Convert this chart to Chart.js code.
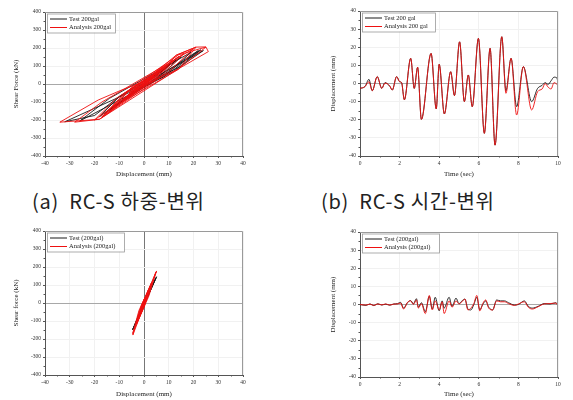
<!DOCTYPE html>
<html>
<head>
<meta charset="utf-8">
<script src="https://cdn.jsdelivr.net/npm/chart.js@4.4.1/dist/chart.umd.min.js"></script>
<style>
  body { margin: 0; background: #fff; width: 573px; height: 400px; position: relative; overflow: hidden; }
  .box { position: absolute; }
  .cap { position: absolute; font-family: "Noto Sans CJK KR", "Noto Sans", sans-serif; font-size: 20px; line-height: 24px; letter-spacing: 0.7px; color: #222; white-space: pre; }
</style>
</head>
<body>

<div class="box" style="left:0;top:0;width:290px;height:180px"><canvas id="chartA"></canvas></div>
<div class="box" style="left:290px;top:0;width:283px;height:180px"><canvas id="chartB"></canvas></div>
<div class="box" style="left:0;top:220px;width:290px;height:180px"><canvas id="chartC"></canvas></div>
<div class="box" style="left:290px;top:220px;width:283px;height:180px"><canvas id="chartD"></canvas></div>

<div class="cap" style="left:32px;top:189px">(a)  RC-S 하중-변위</div>
<div class="cap" style="left:321px;top:189px">(b)  RC-S 시간-변위</div>

<script>
// ================= DATA =================

// (a) RC-S load-displacement, displacement (mm) / shear force (kN)
const dispA_test = [0, -2, 2, -3.5, 3.5, -1, -8, 13, -2, 9, -18, -10, 15, 6, -13, 9, -16, 5, -6, 22, 12, -8, 3, -13, 23, 12, -26, -14, 19, 8, -32, -20, -10, 24, 15, -4, 13, -13, 8, -10, -2, 2, 0];
const forceA_test = [0, -16, 20, -34, 36, -8, -82, 132, -24, 96, -182, -70, 150, 40, -132, 92, -166, 52, -62, 186, 80, -82, 36, -136, 190, 70, -206, -80, 176, 40, -210, -175, -70, 186, 100, -36, 132, -134, 82, -102, -16, 20, 0];

const dispA_an = [0, -2, 2, -4, 4, -3, 1, -4, 3.5, -1, -9, -3, 14, 8, -3, 10, 4, -20, -11, 16, 8, -14, -6, 10, 2, -17, -8, 6, -7, 4, 13, 21, 14, -9, -2, 4, -14, -5, 14, 25, 14, -18, -28, -17, 20, 10, -18, -34, -18.5, -9, 0, 13, 21, 25, 26, 14, -6, 14, 5, -17, -8, 9, 2, -14, -3, -4, 0.5, -3, 0];
const forceA_an = [0, -18, 24, -40, 42, -30, 14, -38, 40, -4, -92, -22, 152, 72, -32, 112, 38, -200, -78, 168, 58, -152, -38, 114, 8, -186, -58, 72, -78, 18, 160, 205, 82, -102, -4, 46, -156, -18, 162, 205, 85, -196, -212, -100, 196, 68, -196, -212, -89, -33, 13, 160, 205, 206, 180, 85, -46, 152, 38, -182, -52, 102, 14, -152, -18, -42, 6, -32, 0];

// (b) RC-S time-displacement, time (sec) / displacement (mm)
const timeB = [0, 0.25, 0.45, 0.62, 0.87, 1.1, 1.26, 1.5, 1.63, 1.85, 2.0, 2.1, 2.24, 2.56, 2.74, 2.91, 3.1, 3.59, 3.85, 4.0, 4.26, 4.58, 4.77, 5.03, 5.27, 5.47, 5.67, 5.98, 6.28, 6.57, 6.82, 7.16, 7.37, 7.63, 7.91, 8.25, 8.67, 8.97, 9.2, 9.35, 9.5, 9.65, 9.8, 9.95, 10];
const testB = [-2.7, -1.7, 2.3, -4, 3.8, -2.7, 0.5, -1.5, -3.6, 3.8, 1, 0.5, -9, 13.9, -2.7, 9, -19.8, 16.6, -14, 10.6, -16.8, 6.5, -6.7, 23, -10, 4.7, -12.8, 24.9, -27.5, 19.4, -34, 25.8, -4, 13.9, -12.8, 9.3, -10, -2.7, -1, 0.5, -0.5, 1.5, 3.5, 3, 0];
const analysisB = [-2.7, -1.7, 1, -4, 3.8, -2.7, 0.2, -1.2, -3.6, 3.8, 1, 0.5, -9, 13.9, -2.7, 9, -19.8, 16.6, -14, 10.6, -16.8, 6.5, -6.7, 23, -10, 4.7, -12.8, 24.9, -27.5, 19.4, -34, 25.8, -5.4, 13.9, -17.4, 9.3, -14.6, -4.5, -3, 0, -2, -3, 0.5, -0.5, -1];

// (c) load-displacement, second specimen
const dispC_test = [0, 0.5, -0.5, 1, -1, -2.5, 0, 2, 0, 3, -2, 1, -4.6, -1, 5.1, 2, -3, 2, -2, 2, -4.5, -1, 2, -1, 2.5, 0, 3, -3, -2.5, 4.8, 1, -3, 2, -2, -3, 2, 1, 2, 0, -1, -2, 0.5, 1, -1, 0];
const forceC_test = [0, 14, -18, 28, -32, -82, -4, 60, -10, 92, -70, 28, -150, -36, 146, 50, -100, 62, -72, 58, -145, -30, 64, -40, 80, -8, 96, -104, -86, 140, 20, -102, 62, -72, -100, 66, 26, 62, -6, -40, -70, 12, 30, -36, 0];

const dispC_an = [0, 0.5, -0.5, 1, -1, -2.5, 0, 1, 2, 0, 3, 0, -2, 0, 1, -1, -4.5, -2, 1, 5.1, 2, -3, 0, 2, 0, -2, 0, 2, -1, -4.6, -2, 2, 0, -1, 1, 2.5, 1, 3, 0, -3, -1, -2.5, 0, 2, 4.8, 2, -3, -1, 2, 0, -2, -3, 0, 2, 1, 2, 0, -1, -2, 0, 0.5, 1, -1, 0];
const forceC_an = [0, 18, -16, 36, -25, -92, 10, 38, 76, -6, 108, -10, -78, 12, 40, -50, -178, -50, 50, 178, 50, -112, 8, 78, -15, -80, 10, 72, -50, -170, -40, 76, -20, -42, 45, 96, 20, 112, -25, -112, -20, -96, 20, 70, 172, 40, -116, -10, 76, -20, -82, -112, 15, 80, 30, 76, -5, -42, -80, 10, 16, 36, -40, 0];

// (d) time-displacement, second specimen
const timeD = [0, 0.3, 0.5, 0.7, 0.9, 1.1, 1.3, 1.5, 1.7, 1.9, 2.05, 2.2, 2.4, 2.55, 2.7, 2.85, 2.95, 3.1, 3.3, 3.5, 3.65, 3.8, 4.0, 4.15, 4.25, 4.5, 4.65, 4.85, 5.0, 5.15, 5.3, 5.45, 5.6, 5.75, 5.9, 6.05, 6.2, 6.35, 6.5, 6.7, 6.9, 7.1, 7.3, 7.5, 7.8, 8.0, 8.3, 8.5, 8.7, 9.0, 9.3, 9.6, 9.9, 10];
const testD = [0, -0.5, 0.3, -0.6, 0.4, -0.3, 0.2, -0.4, 0.3, 0.5, 1.2, -2, 1, 2.2, 0.5, 3.2, -1.5, 1, -4, 4.5, -2.5, 4, -3.5, 2, -2, 4, -1, 3.5, 0.5, 2, 3, -2.5, -3, 0, 4, -3, 0, 2, -1.5, -3, 2.5, 2, 2, 1, -0.3, 0, 2, -1, -2, -1, 0.5, 0.3, 1, -0.5];
const analysisD = [0, -0.3, 0.2, -0.5, 0.3, -0.2, 0.3, -0.3, 0.2, 0.3, 0.8, -2.5, 1.2, 2, 0, 2.5, -2, 0.5, -5, 5, -3, 2, -3, 1.5, -5, 2, -1.5, 2, 0.3, 1.5, 3, -3, -2, 0.5, 5, -3.5, 0.5, 2.5, -2, -3, 2, 1.5, 1.5, 0.5, -0.5, 0.3, 1.5, -1.5, -2.5, -1.2, 0.3, 0.5, 0.8, -1];

// axis ticks
const dispTicks = [-40, -30, -20, -10, 0, 10, 20, 30, 40];
const forceTicks = [-400, -300, -200, -100, 0, 100, 200, 300, 400];
const timeTicks = [0, 2, 4, 6, 8, 10];
const thTicks = [-40, -30, -20, -10, 0, 10, 20, 30, 40];

const SERIF = "'Liberation Serif', 'Times New Roman', serif";
const TEST_COLOR = "#1a1a1a";
const AN_COLOR = "#ee1111";


// ================= HELPERS =================

function toPoints(xs, ys) {
  return xs.map((x, i) => ({ x: x, y: ys[i] }));
}

function gridColor(zeroCol) {
  return (c) => (c.tick && c.tick.value === 0 && zeroCol) ? zeroCol : "#f1f1f1";
}

// frame on top/right + minor ticks
const framePlugin = {
  id: "frame",
  afterDraw(chart) {
    const { ctx, chartArea: a } = chart;
    ctx.save();
    ctx.strokeStyle = "#9a9a9a";
    ctx.lineWidth = 1;
    ctx.beginPath();
    ctx.moveTo(a.left, a.top + 0.5);
    ctx.lineTo(a.right - 0.5, a.top + 0.5);
    ctx.lineTo(a.right - 0.5, a.bottom);
    ctx.stroke();

    ctx.strokeStyle = "#555";
    ctx.beginPath();
    const xs = chart.scales.x, ys = chart.scales.y;
    for (let i = 0; i < xs.ticks.length - 1; i++) {
      const px = Math.round(xs.getPixelForValue((xs.ticks[i].value + xs.ticks[i + 1].value) / 2)) + 0.5;
      ctx.moveTo(px, a.bottom);
      ctx.lineTo(px, a.bottom + 1.5);
    }
    for (let i = 0; i < ys.ticks.length - 1; i++) {
      const py = Math.round(ys.getPixelForValue((ys.ticks[i].value + ys.ticks[i + 1].value) / 2)) + 0.5;
      ctx.moveTo(a.left, py);
      ctx.lineTo(a.left - 1.5, py);
    }
    ctx.stroke();
    ctx.restore();
  }
};

// legend box inside the plot, top-left
const boxLegendPlugin = {
  id: "boxLegend",
  afterDraw(chart, args, opts) {
    const { ctx, chartArea: a } = chart;
    const bx = a.left + 2, by = a.top + 1.5;
    ctx.save();
    ctx.fillStyle = "#fff";
    ctx.fillRect(bx, by, opts.w, 19);
    ctx.strokeStyle = "#999";
    ctx.lineWidth = 0.8;
    ctx.strokeRect(bx + 0.5, by + 0.5, opts.w, 19);
    ctx.font = "6.5px " + SERIF;
    ctx.textBaseline = "middle";
    chart.data.datasets.forEach((ds, i) => {
      const y = by + 5.5 + i * 8.5;
      ctx.strokeStyle = ds.borderColor;
      ctx.lineWidth = 1;
      ctx.beginPath();
      ctx.moveTo(bx + 3, y);
      ctx.lineTo(bx + 20, y);
      ctx.stroke();
      ctx.fillStyle = "#222";
      ctx.fillText(ds.label, bx + 22, y);
    });
    ctx.restore();
  }
};


// ================= CHART =================

function makeChart(id, p) {

  const ctx = document.getElementById(id).getContext("2d");

  return new Chart(ctx, {

    type: "scatter",

    data: {
      datasets: [
        {
          label: p.labels[0],
          data: p.test,
          showLine: true,
          borderColor: TEST_COLOR,
          borderWidth: 0.9,
          pointRadius: 0,
          tension: 0,
          cubicInterpolationMode: p.smooth ? "monotone" : "default",
          order: 2
        },
        {
          label: p.labels[1],
          data: p.analysis,
          showLine: true,
          borderColor: AN_COLOR,
          borderWidth: 0.9,
          pointRadius: 0,
          tension: 0,
          cubicInterpolationMode: p.smooth ? "monotone" : "default",
          order: 1
        }
      ]
    },

    options: {
      responsive: true,
      maintainAspectRatio: false,
      animation: false,
      events: [],
      layout: { padding: { left: 0, top: p.top, right: p.right, bottom: 0 } },
      plugins: {
        legend: { display: false },
        tooltip: { enabled: false },
        boxLegend: { w: p.legendW }
      },
      scales: {
        x: {
          type: "linear",
          min: p.xTicks[0],
          max: p.xTicks[p.xTicks.length - 1],
          afterBuildTicks: (s) => { s.ticks = p.xTicks.map(v => ({ value: v })); },
          ticks: { font: { family: SERIF, size: 5.5 }, color: "#333", padding: 2, maxRotation: 0, autoSkip: false },
          grid: { color: gridColor(p.xZero), tickLength: 2, tickColor: "#555", lineWidth: 1 },
          border: { color: "#555" },
          title: { display: true, text: p.xTitle, font: { family: SERIF, size: 7 }, color: "#222", padding: { top: 0, bottom: 2 } },
          afterFit: (s) => { s.height = p.xH; }
        },
        y: {
          type: "linear",
          min: p.yTicks[0],
          max: p.yTicks[p.yTicks.length - 1],
          afterBuildTicks: (s) => { s.ticks = p.yTicks.map(v => ({ value: v })); },
          ticks: { font: { family: SERIF, size: 5.5 }, color: "#333", padding: 2, autoSkip: false },
          grid: { color: gridColor("#a8a8a8"), tickLength: 2, tickColor: "#555", lineWidth: 1 },
          border: { color: "#555" },
          title: { display: true, text: p.yTitle, font: { family: SERIF, size: 7 }, color: "#222", padding: { top: p.yTitlePad, bottom: 0 } },
          afterFit: (s) => { s.width = p.yW; }
        }
      }
    },

    plugins: [framePlugin, boxLegendPlugin]

  });

}


// ================= RENDER =================

makeChart("chartA", {
  labels: ["Test 200gal", "Analysis 200gal"],
  test: toPoints(dispA_test, forceA_test),
  analysis: toPoints(dispA_an, forceA_an),
  smooth: false,
  xTicks: dispTicks, yTicks: forceTicks,
  xTitle: "Displacement (mm)", yTitle: "Shear Force (kN)",
  xZero: "#777", top: 12, right: 47, xH: 24, yW: 45, yTitlePad: 12, legendW: 68
});

makeChart("chartB", {
  labels: ["Test 200 gal", "Analysis 200 gal"],
  test: toPoints(timeB, testB),
  analysis: toPoints(timeB, analysisB),
  smooth: true,
  xTicks: timeTicks, yTicks: thTicks,
  xTitle: "Time (sec)", yTitle: "Displacement (mm)",
  xZero: null, top: 11, right: 15, xH: 24, yW: 70, yTitlePad: 39, legendW: 73
});

makeChart("chartC", {
  labels: ["Test (200gal)", "Analysis (200gal)"],
  test: toPoints(dispC_test, forceC_test),
  analysis: toPoints(dispC_an, forceC_an),
  smooth: false,
  xTicks: dispTicks, yTicks: forceTicks,
  xTitle: "Displacement (mm)", yTitle: "Shear force (kN)",
  xZero: "#777", top: 11, right: 47, xH: 25, yW: 45, yTitlePad: 12, legendW: 77
});

makeChart("chartD", {
  labels: ["Test (200gal)", "Analysis (200gal)"],
  test: toPoints(timeD, testD),
  analysis: toPoints(timeD, analysisD),
  smooth: true,
  xTicks: timeTicks, yTicks: thTicks,
  xTitle: "Time (sec)", yTitle: "Displacement (mm)",
  xZero: null, top: 12, right: 15, xH: 23, yW: 70, yTitlePad: 39, legendW: 77
});
</script>
</body>
</html>
